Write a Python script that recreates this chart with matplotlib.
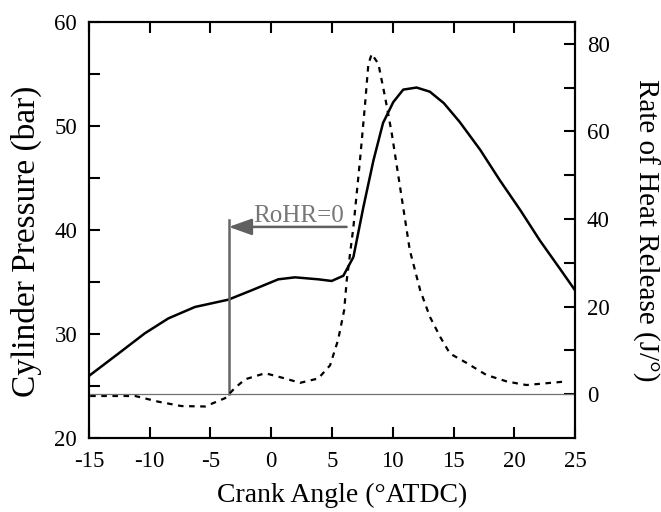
import numpy as np
import matplotlib.pyplot as plt

plt.rcParams['font.family'] = ['Liberation Serif', 'DejaVu Serif']
plt.rcParams['axes.unicode_minus'] = False

# cylinder pressure (solid)
ca_p = [-14.9, -12.6, -10.4, -8.47, -6.28, -3.54, -1.62, 0.58, 1.95, 3.87, 4.97, 5.93,
        6.76, 7.58, 8.41, 9.2, 10.04, 10.86, 11.96, 13.05, 14.2, 15.5, 17.2, 18.8,
        20.5, 22.1, 23.8, 25.0]
p = [26.06, 28.1, 30.07, 31.5, 32.6, 33.3, 34.2, 35.26, 35.45, 35.26, 35.1, 35.6,
     37.4, 42.2, 46.7, 50.3, 52.3, 53.5, 53.7, 53.3, 52.2, 50.4, 47.7, 44.8,
     41.9, 39.0, 36.2, 34.2]

# rate of heat release (dashed)
ca_r = [-14.9, -11.2, -9.3, -7.4, -5.45, -3.8, -3.0, -2.16, -0.5, 1.13, 2.37, 3.87,
        4.84, 5.5, 6.0, 6.21, 6.76, 7.3, 7.72, 7.99, 8.27, 8.82, 9.37, 9.92, 10.6,
        11.4, 12.25, 13.05, 13.9, 14.7, 16.1, 17.7, 19.4, 21.0, 22.6, 24.2]
rohr = [-0.4, -0.4, -1.7, -2.7, -2.8, -0.9, 1.4, 3.4, 4.8, 3.6, 2.6, 3.6,
        6.6, 12.4, 19.2, 26.0, 38.2, 53.4, 66.3, 75.4, 77.7, 75.4, 67.8, 59.5, 47.3,
        32.9, 23.8, 17.7, 13.1, 9.3, 7.1, 4.4, 2.9, 2.1, 2.5, 2.9]

soi = -3.5      # RoHR = 0 crossing
p_lim = (20, 60)
r_lim = (-10, 85)

fig = plt.figure(figsize=(6.61, 5.12), dpi=100)
ax = fig.add_axes([0.1346, 0.1445, 0.7354, 0.8125])
ax2 = ax.twinx()

ax.plot(ca_p, p, color='black', lw=1.8)
ax2.plot(ca_r, rohr, color='black', lw=1.6, dashes=(2.5, 2.5))
ax2.axhline(0, color='#707070', lw=0.9)

ax.set_xlim(-15, 25)
ax.set_ylim(*p_lim)
ax2.set_ylim(*r_lim)

# vertical marker from RoHR=0 up to ~41 bar, arrow and note
p_zero = p_lim[0] + (0 - r_lim[0]) / (r_lim[1] - r_lim[0]) * (p_lim[1] - p_lim[0])
ax.plot([soi, soi], [p_zero, 41], color='#666666', lw=1.8)
ax.annotate('', xy=(soi, 40.3), xytext=(6.2, 40.3),
            arrowprops=dict(arrowstyle='-|>,head_length=0.7,head_width=0.25',
                            color='#606060', lw=1.8, mutation_scale=20,
                            shrinkA=0, shrinkB=0))
ax.text(-1.5, 40.75, 'RoHR=0', color='#777777', fontsize=18, ha='left', va='baseline')

ax.set_xticks(np.arange(-15, 26, 5))
ax.set_yticks(np.arange(20, 61, 10))
ax.set_yticks(np.arange(25, 60, 10), minor=True)
ax2.set_yticks([0, 20, 40, 60, 80])
ax2.set_yticks([10, 30, 50, 70], minor=True)

for a in (ax, ax2):
    for s in a.spines.values():
        s.set_linewidth(1.5)
    a.tick_params(which='both', direction='in', length=8, width=1.5, labelsize=16.5, pad=8.5)
ax.tick_params(axis='x', top=True, pad=9)
ax.tick_params(axis='y', right=False)
ax2.tick_params(axis='y', left=False)

ax.set_xlabel('Crank Angle (°ATDC)', fontsize=20)
ax.xaxis.set_label_coords(0.5206, -0.108)
ax.set_ylabel('Cylinder Pressure (bar)', fontsize=24)
ax.yaxis.set_label_coords(-0.097, 0.4736)
ax2.set_ylabel('Rate of Heat Release (J/°)', fontsize=21, rotation=270, labelpad=36)

fig.savefig('out.png', dpi=100)
